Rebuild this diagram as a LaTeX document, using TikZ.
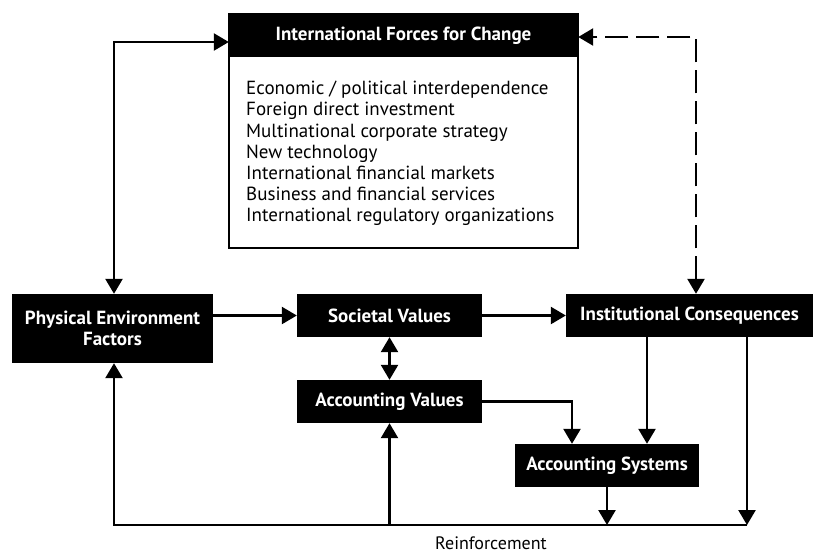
\documentclass[tikz,border=0pt]{standalone}
\usepackage{fontspec}
\setmainfont{PT Sans}
\usepackage{tikz}
\usetikzlibrary{positioning}
\usetikzlibrary{arrows.meta}
\pgfdeclarelayer{nodelayer}
\pgfdeclarelayer{edgelayer}
\pgfsetlayers{nodelayer,edgelayer,main}

\tikzset{
    blackbox/.style={rectangle, fill=black, text=white, font=\fontsize{19}{21}\selectfont\bfseries, align=center, inner sep=0pt},
    link/.style={line width=2.5pt, -{Triangle[length=15pt,width=17pt]}},
    twoway/.style={line width=2.5pt, {Triangle[length=15pt,width=17pt]}-{Triangle[length=15pt,width=17pt]}}
}

\begin{document}
\begin{tikzpicture}[x=1pt, y=-1pt]
        \useasboundingbox (0,0) rectangle (813,555);
        \begin{pgfonlayer}{nodelayer}
            \draw [line width=1.5pt] (229, 14) rectangle (578, 248);
            \node [blackbox, minimum width=349pt, minimum height=43pt] (forces) at (403.5, 35.5) {International Forces for Change};
            \node [anchor=north west, align=left, font=\fontsize{19}{21.2}\selectfont, inner sep=0pt] (list) at (246, 81) {Economic / political interdependence\\Foreign direct investment\\Multinational corporate strategy\\New technology\\International financial markets\\Business and financial services\\International regulatory organizations};
            \node [blackbox, minimum width=201pt, minimum height=69pt] (phys) at (112.5, 328.5) {Physical Environment\\Factors};
            \node [blackbox, minimum width=185pt, minimum height=43pt] (soc) at (389.5, 315.5) {Societal Values};
            \node [blackbox, minimum width=185pt, minimum height=43pt] (accval) at (389.5, 401.5) {Accounting Values};
            \node [blackbox, minimum width=247pt, minimum height=43pt] (inst) at (689.5, 315.5) {Institutional Consequences};
            \node [blackbox, minimum width=184pt, minimum height=43pt] (accsys) at (607, 465.5) {Accounting Systems};
            \node [anchor=base, inner sep=0pt, font=\fontsize{18}{20}\selectfont] (reinf) at (491, 549) {Reinforcement};
            \coordinate (topl) at (0, 42);
            \coordinate (topr) at (0, 37);
            \coordinate (base) at (0, 525);
            \coordinate (c1) at (114, 0);
            \coordinate (c2) at (696, 0);
            \coordinate (c3) at (572, 0);
            \coordinate (c4) at (647, 0);
            \coordinate (c5) at (747, 0);
        \end{pgfonlayer}
        \begin{pgfonlayer}{edgelayer}
            \draw [twoway] (phys.north -| c1) |- (forces.west |- topl);
            \draw [twoway, dash pattern=on 23pt off 8pt] (inst.north -| c2) |- (forces.east |- topr);
            \draw [link] (phys.east |- soc.west) to (soc.west);
            \draw [link] (soc.east) to (inst.west);
            \draw [twoway] (soc.south) to (accval.north);
            \draw [link] (accval.east) -| (accsys.north -| c3);
            \draw [link] (inst.south -| c4) to (accsys.north -| c4);
            \draw [link] (accsys.south) to (accsys.south |- base);
            \draw [link] (inst.south -| c5) to (c5 |- base);
            \draw [link] (c5 |- base) -| (phys.south -| c1);
            \draw [link] (accval.south |- base) to (accval.south);
        \end{pgfonlayer}
\end{tikzpicture}
\end{document}
